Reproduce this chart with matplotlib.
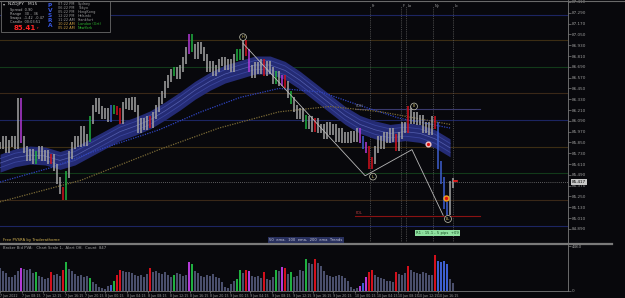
import matplotlib
matplotlib.use("Agg")
import matplotlib.pyplot as plt
from matplotlib.patches import Rectangle
from matplotlib.lines import Line2D

W, H = 625, 298
bg = "#08080c"

# closing prices, one every 3 px of the original chart (index = bar number)
closes = [85.82, 85.88, 85.77, 85.84, 85.88, 85.82, 86.30, 85.88, 85.77, 85.68,
          85.74, 85.65, 85.71, 85.77, 85.68, 85.73, 85.65, 85.68, 85.57, 85.43,
          85.32, 85.25, 85.49, 85.71, 85.82, 85.88, 85.84, 85.99, 85.85, 85.90,
          86.10, 86.23, 86.30, 86.21, 86.15, 86.19, 86.12, 86.23, 86.21, 86.19,
          86.10, 86.26, 86.30, 86.25, 86.32, 86.23, 85.99, 86.08, 86.03, 86.10,
          86.05, 86.15, 86.23, 86.32, 86.38, 86.49, 86.56, 86.63, 86.65, 86.60,
          86.67, 86.76, 86.87, 87.01, 86.90, 86.82, 86.93, 86.87, 86.79, 86.67,
          86.71, 86.63, 86.67, 86.74, 86.76, 86.70, 86.74, 86.67, 86.79, 86.85,
          86.81, 86.95, 86.85, 86.67, 86.61, 86.70, 86.65, 86.74, 86.63, 86.72,
          86.65, 86.54, 86.60, 86.52, 86.56, 86.49, 86.38, 86.32, 86.23, 86.15,
          86.19, 86.12, 86.04, 86.10, 86.01, 86.08, 85.99, 86.01, 85.93, 86.04,
          85.97, 86.01, 85.90, 85.97, 85.88, 85.93, 85.88, 85.94, 85.90, 85.97,
          85.88, 85.82, 85.77, 85.60, 85.65, 85.77, 85.88, 85.82, 85.93, 85.88,
          85.97, 85.90, 85.79, 85.93, 86.04, 85.99, 86.21, 86.10, 86.15, 86.08,
          86.12, 85.99, 86.04, 85.97, 86.10, 86.04, 85.60, 85.43, 85.15, 85.08,
          85.38, 85.41]

volumes = [2300, 2000, 1800, 1400, 1400, 1600, 2000, 2300, 2200, 2100,
           2200, 1800, 1900, 1500, 1400, 1200, 1300, 1900, 1600, 1700,
           1500, 2100, 2900, 2200, 2000, 1700, 1500, 1600, 1400, 1500,
           1300, 900, 700, 400, 300, 200, 500, 600, 1000, 1600,
           2100, 2000, 1900, 1900, 1800, 1600, 1500, 1600, 1400, 1700,
           2300, 1900, 2000, 1800, 1700, 1900, 1600, 1400, 1600, 1800,
           1700, 1500, 1600, 2900, 2700, 2000, 1800, 1500, 1400, 1600,
           1500, 1700, 1400, 1300, 900, 400, 300, 700, 1000, 1200,
           2100, 1800, 2100, 2000, 1500, 1400, 1500, 1300, 1900, 1200,
           1100, 1400, 2100, 2000, 2400, 2300, 1700, 1900, 1400, 1500,
           2100, 2000, 3200, 2800, 2700, 3200, 2800, 2500, 2000, 1600,
           1500, 1400, 1500, 1600, 1500, 1300, 1000, 400, 200, 300,
           500, 800, 1400, 1900, 2100, 1600, 1400, 1300, 1200, 1000,
           1000, 900, 1900, 1700, 1600, 1800, 2500, 2100, 1900, 1800,
           1700, 1900, 1800, 1600, 1600, 3600, 3000, 2900, 3000, 2700,
           1200, 800]

# PVSRA coloured bars
green_bars = [12, 22, 30, 38, 58, 64, 79, 80, 92, 97, 102]
red_bars = [17, 21, 39, 40, 50, 82, 88, 95, 105, 123, 124, 132, 136, 145]
purple_bars = [7, 63, 83, 94, 120, 122]
blue_bars = [37, 121, 146, 147, 148, 149]

# moving averages (bar index, price)
ema50_x = list(range(0, 151, 5))
ema50 = [85.62, 85.68, 85.71, 85.70, 85.65, 85.70, 85.79, 85.88, 85.97, 86.03,
         86.10, 86.20, 86.31, 86.43, 86.53, 86.61, 86.66, 86.71, 86.71, 86.65,
         86.54, 86.41, 86.28, 86.15, 86.05, 85.99, 85.95, 85.97, 85.95, 85.89, 85.79]
ema100_x = [0, 17, 33, 53, 67, 80, 93, 107, 120, 133, 150]
ema100 = [85.41, 85.57, 85.77, 85.99, 86.19, 86.35, 86.45, 86.41, 86.26, 86.12, 86.01]
ema200_x = [0, 27, 53, 73, 93, 110, 127, 150]
ema200 = [85.19, 85.43, 85.77, 86.01, 86.19, 86.25, 86.19, 86.05]

levels = [87.27, 86.99, 86.69, 86.40, 86.10, 85.80, 85.51, 85.21, 84.92]
level_colors = ["#1c2562", "#3c2d14", "#123a1a", "#3a2818"]

zigzag_x = [81, 121.7, 137.3, 147.7]
zigzag_y = [86.95, 85.48, 85.77, 85.04]
swing_labels = [("H", 81, 87.02), ("III", 138, 86.25), ("L", 124.3, 85.47), ("LL", 149.3, 85.00)]

session_x = [123.3, 133.7, 135.3, 144.3, 151.0]
session_names = ["Fr", "F", "Lo", "Ny", "Lc"]

price_ticks = [87.41, 87.29, 87.17, 87.05, 86.93, 86.81, 86.69, 86.57, 86.45, 86.33, 86.21,
               86.09, 85.97, 85.85, 85.73, 85.61, 85.49, 85.37, 85.25, 85.13, 85.01, 84.89]
date_x = [0, 7.3, 14.3, 21.7, 28.3, 35, 42.3, 49.3, 56.7, 63.3, 70, 76.7, 83.3, 90.7,
          97.7, 104.3, 111, 118.3, 125.7, 132.7, 139.3, 146]
date_labels = ["7 Jun 2022", "7 Jun 08:15", "7 Jun 12:15", "7 Jun 16:15", "7 Jun 20:15",
               "8 Jun 00:15", "8 Jun 04:15", "8 Jun 08:15", "8 Jun 12:15", "8 Jun 16:15",
               "8 Jun 20:15", "9 Jun 00:15", "9 Jun 04:15", "9 Jun 08:15", "9 Jun 12:15",
               "9 Jun 16:15", "9 Jun 20:15", "10 Jun 00:15", "10 Jun 04:15", "10 Jun 08:15",
               "10 Jun 12:15", "10 Jun 16:15"]

sessions = [("07:22 PM", "Sydney"), ("06:22 PM", "Tokyo"), ("05:22 PM", "HongKong"),
            ("12:22 PM", "Helsinki"), ("11:22 AM", "Frankfurt"), ("10:22 AM", "London (Grt)"),
            ("05:22 AM", "NewYork")]


def fx(x):
    return x / W


def fy(y):
    return 1 - y / H


def bar_color(i, default):
    if i in green_bars:
        return "#1fb040"
    if i in red_bars:
        return "#d3101c"
    if i in purple_bars:
        return "#b43ad8"
    if i in blue_bars:
        return "#3d5fd0"
    return default


fig = plt.figure(figsize=(W / 100, H / 100), dpi=100, facecolor=bg)
ax = fig.add_axes([0, fy(242), fx(568), 240 / H])
ax2 = fig.add_axes([0, fy(291), fx(568), 46 / H])
for a in (ax, ax2):
    a.set_facecolor(bg)
    for s in a.spines.values():
        s.set_visible(False)
    a.set_xlim(0, 189.3)

ax.set_ylim(84.744, 87.408)
ax2.set_ylim(0, 4600)

# grid levels
for k, lv in enumerate(levels):
    ax.axhline(lv, color=level_colors[k % 4], lw=0.8, zorder=1)
ax.axhline(85.41, color="#7a7a7a", lw=0.6, ls=(0, (1, 1.5)), zorder=1)

# previous day high / low
ax.plot([118.3, 160], [86.22, 86.22], color="#3a3a6e", lw=0.8, zorder=2)
ax.plot([118.3, 160], [85.03, 85.03], color="#8a1212", lw=0.8, zorder=2)
ax.text(118.5, 86.235, "PDH", fontsize=2.6, color="#8a8a8a", va="bottom")
ax.text(118.5, 85.045, "PDL", fontsize=2.6, color="#c04040", va="bottom")

# session lines
for sx, name in zip(session_x, session_names):
    ax.axvline(sx, ymax=0.985, color="#5a5a5a", lw=0.6, ls=(0, (1, 1.2)), zorder=1)
    ax.text(sx + 0.4, 87.37, name, fontsize=2.6, color="#a0a0a0", va="center")

# ema cloud
lo = [v - 0.10 for v in ema50]
hi = [v + 0.10 for v in ema50]
ax.fill_between(ema50_x, lo, hi, color="#242b74", lw=0, zorder=2)
ax.plot(ema50_x, [v - 0.05 for v in ema50], color="#3a459c", lw=0.6, zorder=2)
ax.plot(ema50_x, [v + 0.05 for v in ema50], color="#3a459c", lw=0.6, zorder=2)
ax.plot(ema50_x, ema50, color="#5560b0", lw=0.5, zorder=2)
ax.plot(ema100_x, ema100, color="#2f44c0", lw=0.9, ls=(0, (1, 1)), zorder=2)
ax.plot(ema200_x, ema200, color="#7a6a36", lw=0.9, ls=(0, (1, 1)), zorder=2)

# candles
for i, c in enumerate(closes):
    p = closes[i - 1] if i > 0 else c
    col = bar_color(i, "#a4a4a4")
    ax.vlines(i, min(p, c) - 0.04, max(p, c) + 0.04, color=col, lw=1.1, zorder=3)

# zigzag and swing labels
ax.plot(zigzag_x, zigzag_y, color="#b8b8b8", lw=0.6, zorder=4)
for txt, sx, sy in swing_labels:
    ax.text(sx, sy, txt, fontsize=2.8, color="#e0d070", ha="center", va="center", zorder=5,
            bbox=dict(boxstyle="circle,pad=0.35", fc=bg, ec="#c8c8b4", lw=0.5))

ax.plot(148.7, 85.23, "o", ms=3.6, color="#f0a020", zorder=5)
ax.plot(148.7, 85.23, "o", ms=1.4, color="#e01010", zorder=6)
ax.plot(142.7, 85.83, "o", ms=3.4, color="#f2c4c4", zorder=5)
ax.plot(142.7, 85.83, "o", ms=1.3, color="#e01010", zorder=6)
ax.plot([151.3, 152.3], [85.42, 85.42], color="#ff2020", lw=1.2, zorder=6)

# price axis
ax.yaxis.tick_right()
ax.set_yticks(price_ticks)
ax.set_yticklabels(["%.3f" % v for v in price_ticks])
ax.tick_params(axis="y", colors="#7a7a7a", labelcolor="#9a9a9a", labelsize=3, length=2, width=0.5, pad=1)
ax.set_xticks([])
ax.text(1.007, 85.41, "85.417", transform=ax.get_yaxis_transform(), fontsize=3, color="#000000",
        va="center", bbox=dict(boxstyle="square,pad=0.25", fc="#c8c8c8", ec="none"))

ax.text(138.7, 84.84, "R1 : 15.1 , 5 pips  +09", fontsize=2.7, color="#124a1e", va="center",
        bbox=dict(boxstyle="square,pad=0.3", fc="#8fe0a0", ec="none"), zorder=6)

# volume panel
vcols = [bar_color(i, "#4a4f6c") for i in range(len(volumes))]
ax2.bar(range(len(volumes)), volumes, width=0.9, color=vcols, lw=0)
ax2.yaxis.tick_right()
ax2.set_yticks([0, 4460])
ax2.set_yticklabels(["0", "4460"])
ax2.tick_params(axis="y", colors="#7a7a7a", labelcolor="#9a9a9a", labelsize=3, length=2, width=0.5, pad=1)
ax2.set_xticks(date_x)
ax2.set_xticklabels(date_labels, ha="left")
ax2.tick_params(axis="x", colors="#7a7a7a", labelcolor="#9a9a9a", labelsize=2.3, length=1.5, width=0.5, pad=0.8)

# frame lines
fig.add_artist(Line2D([fx(568), fx(568)], [fy(0), fy(291)], color="#7a7a7a", lw=0.6))
fig.add_artist(Line2D([0, fx(568)], [fy(291), fy(291)], color="#7a7a7a", lw=0.6))
fig.add_artist(Line2D([0, 1], [fy(0.5), fy(0.5)], color="#6a6a6a", lw=0.8))
fig.add_artist(Line2D([0, fx(612)], [fy(243.5), fy(243.5)], color="#7a7a7a", lw=1.6))

fig.text(fx(3), fy(240), "Free PVSRA by Traderathome", fontsize=2.8, color="#d0b050", va="center")
fig.text(fx(3), fy(248), "Broker Bid PVA:   Chart Scale 1,  Alert Off,  Count  847", fontsize=2.7,
         color="#a0a0a0", va="center")
fig.text(fx(306), fy(240), "50  ema,  100  ema,  200  ema  Trends", fontsize=2.7, color="#c8c8d8",
         ha="center", va="center", bbox=dict(boxstyle="square,pad=0.3", fc="#28305e", ec="none"))

# info box
fig.add_artist(Rectangle((fx(1), fy(32)), fx(109), 31 / H, transform=fig.transFigure,
                         fc="#050508", ec="#6a6a6a", lw=0.6))
fig.text(fx(3), fy(4.5), "\u25be", fontsize=3, color="#c0c0c0", va="center")
fig.text(fx(8), fy(4.5), "NZDJPY   M15", fontsize=3.2, color="#d8d8d8", va="center")
info = ["Spread  0.90", "Range   30 .. 36", "Swaps  -1.42  -0.47", "Candle  00:03:51"]
for k, t in enumerate(info):
    fig.text(fx(10), fy(10 + 4 * k), t, fontsize=2.5, color="#b0b0b0", va="center")
fig.text(fx(14), fy(28.5), "85.41", fontsize=5, color="#ff2424", fontweight="bold", va="center")
fig.text(fx(37), fy(28), "r", fontsize=3, color="#ff2424", va="center")
for k, ch in enumerate("PVSRA"):
    fig.text(fx(50), fy(5.5 + 5 * k), ch, fontsize=4.2, color="#3656e0", fontweight="bold",
             ha="center", va="center")
for k, (t, name) in enumerate(sessions):
    tc = "#d0a040" if k >= 5 else "#9a9a9a"
    nc = "#30c030" if k >= 5 else "#9a9a9a"
    fig.text(fx(58), fy(4 + 4 * k), t, fontsize=2.5, color=tc, va="center")
    fig.text(fx(78), fy(4 + 4 * k), name, fontsize=2.5, color=nc, va="center")

fig.savefig("out.png", dpi=100, facecolor=bg)
